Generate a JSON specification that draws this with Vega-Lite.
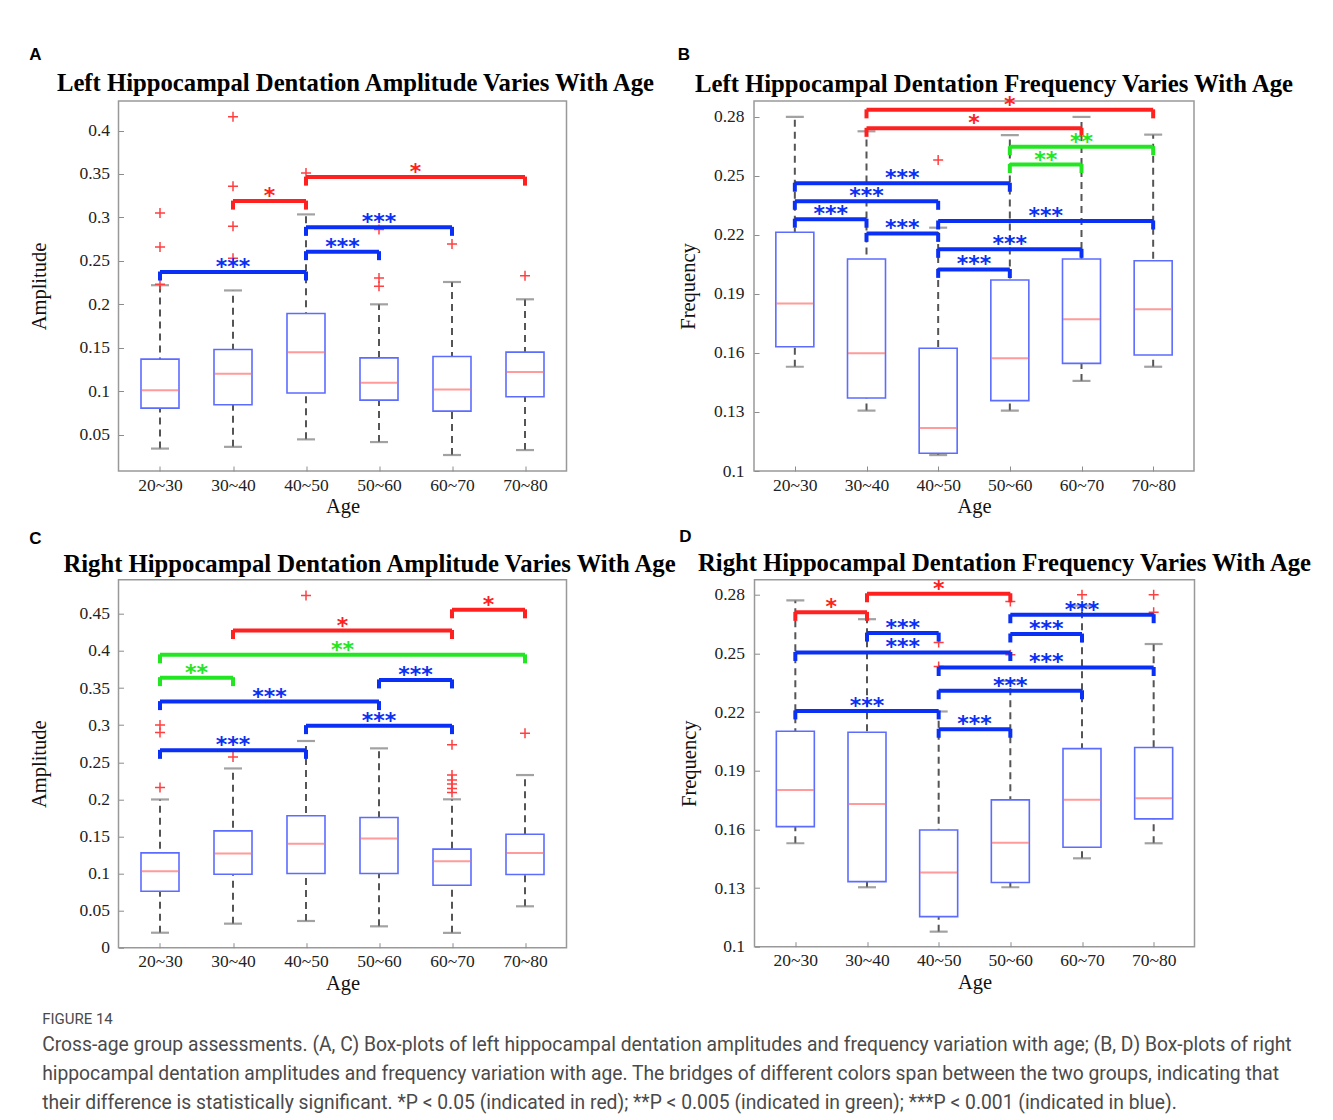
{
"$schema": "https://vega.github.io/schema/vega-lite/v6.json",
"background": "white",
"padding": {"left": 28.5, "top": 45, "right": 2, "bottom": 2},
"title": {"text": "FIGURE 14", "subtitle": ["Cross-age group assessments. (A, C) Box-plots of left hippocampal dentation amplitudes and frequency variation with age; (B, D) Box-plots of right", "hippocampal dentation amplitudes and frequency variation with age. The bridges of different colors span between the two groups, indicating that", "their difference is statistically significant. *P < 0.05 (indicated in red); **P < 0.005 (indicated in green); ***P < 0.001 (indicated in blue)."], "orient": "bottom", "anchor": "start", "frame": "bounds", "font": "Roboto", "fontSize": 15, "fontWeight": "normal", "color": "#4a4a4a", "subtitleFont": "Roboto", "subtitleFontSize": 19.3, "subtitleColor": "#4a4a4a", "subtitleLineHeight": 29, "subtitlePadding": 8.7, "offset": 18, "dx": 13},
"config": {
  "view": {"stroke": "#999999", "strokeWidth": 1.5},
  "axis": {"grid": false, "domain": false, "labelFont": "Liberation Serif", "labelFontSize": 17.5, "labelColor": "#222222", "titleFont": "Liberation Serif", "titleFontSize": 20.5, "titleFontWeight": "normal", "titleColor": "#111111", "tickColor": "#8c8c8c", "tickSize": -5, "labelOverlap": false},
  "title": {"font": "Liberation Serif", "fontSize": 24.7, "fontWeight": "bold", "color": "#000000"}
},
"datasets": {
  "boxes": [
    {"panel": "A", "g": 1, "lo": 0.034, "q1": 0.0805, "med": 0.101, "q3": 0.137, "hi": 0.222},
    {"panel": "A", "g": 2, "lo": 0.036, "q1": 0.0844, "med": 0.12, "q3": 0.148, "hi": 0.216},
    {"panel": "A", "g": 3, "lo": 0.0446, "q1": 0.098, "med": 0.145, "q3": 0.1894, "hi": 0.3035},
    {"panel": "A", "g": 4, "lo": 0.0415, "q1": 0.0898, "med": 0.1097, "q3": 0.1384, "hi": 0.2},
    {"panel": "A", "g": 5, "lo": 0.0266, "q1": 0.0771, "med": 0.102, "q3": 0.14, "hi": 0.2257},
    {"panel": "A", "g": 6, "lo": 0.0323, "q1": 0.0936, "med": 0.122, "q3": 0.145, "hi": 0.2058},
    {"panel": "B", "g": 1, "lo": 0.153, "q1": 0.1632, "med": 0.1852, "q3": 0.2214, "hi": 0.28},
    {"panel": "B", "g": 2, "lo": 0.1307, "q1": 0.1371, "med": 0.1598, "q3": 0.2078, "hi": 0.2727},
    {"panel": "B", "g": 3, "lo": 0.1081, "q1": 0.109, "med": 0.1218, "q3": 0.1624, "hi": 0.2237},
    {"panel": "B", "g": 4, "lo": 0.1307, "q1": 0.1358, "med": 0.1573, "q3": 0.1971, "hi": 0.2708},
    {"panel": "B", "g": 5, "lo": 0.1458, "q1": 0.1547, "med": 0.1771, "q3": 0.2078, "hi": 0.28},
    {"panel": "B", "g": 6, "lo": 0.153, "q1": 0.159, "med": 0.1822, "q3": 0.2069, "hi": 0.271},
    {"panel": "C", "g": 1, "lo": 0.0202, "q1": 0.076, "med": 0.103, "q3": 0.1278, "hi": 0.1998},
    {"panel": "C", "g": 2, "lo": 0.0324, "q1": 0.099, "med": 0.127, "q3": 0.1575, "hi": 0.2416},
    {"panel": "C", "g": 3, "lo": 0.036, "q1": 0.1, "med": 0.14, "q3": 0.1778, "hi": 0.2786},
    {"panel": "C", "g": 4, "lo": 0.0288, "q1": 0.1, "med": 0.1472, "q3": 0.1755, "hi": 0.2687},
    {"panel": "C", "g": 5, "lo": 0.02, "q1": 0.0842, "med": 0.1166, "q3": 0.1328, "hi": 0.2},
    {"panel": "C", "g": 6, "lo": 0.0558, "q1": 0.0986, "med": 0.1278, "q3": 0.153, "hi": 0.2327},
    {"panel": "D", "g": 1, "lo": 0.1529, "q1": 0.1614, "med": 0.1802, "q3": 0.2102, "hi": 0.2771},
    {"panel": "D", "g": 2, "lo": 0.1304, "q1": 0.1333, "med": 0.173, "q3": 0.2097, "hi": 0.2675},
    {"panel": "D", "g": 3, "lo": 0.1077, "q1": 0.1154, "med": 0.1379, "q3": 0.1597, "hi": 0.2203},
    {"panel": "D", "g": 4, "lo": 0.1304, "q1": 0.1328, "med": 0.1532, "q3": 0.1751, "hi": 0.236},
    {"panel": "D", "g": 5, "lo": 0.1452, "q1": 0.1509, "med": 0.1751, "q3": 0.2013, "hi": 0.2744},
    {"panel": "D", "g": 6, "lo": 0.1529, "q1": 0.1654, "med": 0.1759, "q3": 0.2019, "hi": 0.2548}
  ],
  "outliers": [
    {"panel": "A", "g": 1, "v": 0.305}, {"panel": "A", "g": 1, "v": 0.266}, {"panel": "A", "g": 1, "v": 0.223},
    {"panel": "A", "g": 2, "v": 0.416}, {"panel": "A", "g": 2, "v": 0.336}, {"panel": "A", "g": 2, "v": 0.29}, {"panel": "A", "g": 2, "v": 0.253},
    {"panel": "A", "g": 3, "v": 0.351},
    {"panel": "A", "g": 4, "v": 0.286}, {"panel": "A", "g": 4, "v": 0.2303}, {"panel": "A", "g": 4, "v": 0.2208},
    {"panel": "A", "g": 5, "v": 0.2694},
    {"panel": "A", "g": 6, "v": 0.233},
    {"panel": "B", "g": 3, "v": 0.2581},
    {"panel": "C", "g": 1, "v": 0.3}, {"panel": "C", "g": 1, "v": 0.29}, {"panel": "C", "g": 1, "v": 0.216},
    {"panel": "C", "g": 2, "v": 0.257},
    {"panel": "C", "g": 3, "v": 0.4748},
    {"panel": "C", "g": 5, "v": 0.2736}, {"panel": "C", "g": 5, "v": 0.2327}, {"panel": "C", "g": 5, "v": 0.226}, {"panel": "C", "g": 5, "v": 0.2205}, {"panel": "C", "g": 5, "v": 0.2147}, {"panel": "C", "g": 5, "v": 0.2093},
    {"panel": "C", "g": 6, "v": 0.289},
    {"panel": "D", "g": 3, "v": 0.2556}, {"panel": "D", "g": 3, "v": 0.2433},
    {"panel": "D", "g": 4, "v": 0.2766}, {"panel": "D", "g": 4, "v": 0.2493},
    {"panel": "D", "g": 5, "v": 0.28},
    {"panel": "D", "g": 6, "v": 0.28}, {"panel": "D", "g": 6, "v": 0.271}
  ],
  "brackets": [
    {"panel": "A", "g": 1, "g2": 3, "y": 0.2372, "sig": "***"},
    {"panel": "A", "g": 3, "g2": 4, "y": 0.2606, "sig": "***"},
    {"panel": "A", "g": 3, "g2": 5, "y": 0.2886, "sig": "***"},
    {"panel": "A", "g": 2, "g2": 3, "y": 0.3188, "sig": "*"},
    {"panel": "A", "g": 3, "g2": 6, "y": 0.3464, "sig": "*"},
    {"panel": "B", "g": 2, "g2": 6, "y": 0.2836, "sig": "*"},
    {"panel": "B", "g": 2, "g2": 5, "y": 0.2742, "sig": "*"},
    {"panel": "B", "g": 4, "g2": 6, "y": 0.2649, "sig": "**"},
    {"panel": "B", "g": 4, "g2": 5, "y": 0.2558, "sig": "**"},
    {"panel": "B", "g": 1, "g2": 4, "y": 0.2463, "sig": "***"},
    {"panel": "B", "g": 1, "g2": 3, "y": 0.2371, "sig": "***"},
    {"panel": "B", "g": 1, "g2": 2, "y": 0.228, "sig": "***"},
    {"panel": "B", "g": 3, "g2": 6, "y": 0.2271, "sig": "***"},
    {"panel": "B", "g": 2, "g2": 3, "y": 0.2208, "sig": "***"},
    {"panel": "B", "g": 3, "g2": 5, "y": 0.2127, "sig": "***"},
    {"panel": "B", "g": 3, "g2": 4, "y": 0.2025, "sig": "***"},
    {"panel": "C", "g": 5, "g2": 6, "y": 0.4554, "sig": "*"},
    {"panel": "C", "g": 2, "g2": 5, "y": 0.4275, "sig": "*"},
    {"panel": "C", "g": 1, "g2": 6, "y": 0.3947, "sig": "**"},
    {"panel": "C", "g": 1, "g2": 2, "y": 0.364, "sig": "**"},
    {"panel": "C", "g": 4, "g2": 5, "y": 0.3609, "sig": "***"},
    {"panel": "C", "g": 1, "g2": 4, "y": 0.3317, "sig": "***"},
    {"panel": "C", "g": 3, "g2": 5, "y": 0.2993, "sig": "***"},
    {"panel": "C", "g": 1, "g2": 3, "y": 0.266, "sig": "***"},
    {"panel": "D", "g": 2, "g2": 4, "y": 0.2805, "sig": "*"},
    {"panel": "D", "g": 1, "g2": 2, "y": 0.271, "sig": "*"},
    {"panel": "D", "g": 4, "g2": 6, "y": 0.2698, "sig": "***"},
    {"panel": "D", "g": 2, "g2": 3, "y": 0.2604, "sig": "***"},
    {"panel": "D", "g": 4, "g2": 5, "y": 0.2599, "sig": "***"},
    {"panel": "D", "g": 1, "g2": 4, "y": 0.2505, "sig": "***"},
    {"panel": "D", "g": 3, "g2": 6, "y": 0.2428, "sig": "***"},
    {"panel": "D", "g": 3, "g2": 5, "y": 0.2309, "sig": "***"},
    {"panel": "D", "g": 1, "g2": 3, "y": 0.2206, "sig": "***"},
    {"panel": "D", "g": 3, "g2": 4, "y": 0.2112, "sig": "***"}
  ]
},
"spacing": 9.7,
"vconcat": [
{"spacing": 19.5, "hconcat": [
{"title": {"text": "A", "anchor": "start", "font": "Liberation Sans", "fontSize": 17, "fontWeight": "bold", "offset": 7},
 "vconcat": [{
  "width": 448, "height": 370,
  "title": {"text": "Left Hippocampal Dentation Amplitude Varies With Age", "anchor": "middle", "dx": 13, "offset": 5},
  "layer": [
   {"data": {"name": "boxes"}, "transform": [{"filter": "datum.panel == 'A'"}],
    "mark": {"type": "rule", "color": "#555555", "strokeWidth": 2, "strokeDash": [7, 5]},
    "encoding": {
     "x": {"field": "g", "type": "quantitative", "title": "Age", "scale": {"domain": [0.5, 6.5], "nice": false, "zero": false}, "axis": {"values": [1, 2, 3, 4, 5, 6], "labelExpr": "['20~30','30~40','40~50','50~60','60~70','70~80'][datum.value - 1]", "labelFont": "Liberation Serif", "labelFontSize": 17.5, "labelColor": "#222222", "labelPadding": 10, "titlePadding": 3, "labelFlush": false}},
     "y": {"field": "lo", "type": "quantitative", "title": "Amplitude", "scale": {"domain": [0.0082, 0.434], "nice": false, "zero": false}, "axis": {"values": [0.05, 0.1, 0.15, 0.2, 0.25, 0.3, 0.35, 0.4], "format": "~g", "labelFont": "Liberation Serif", "labelFontSize": 17.5, "labelColor": "#222222", "labelPadding": 14, "titlePadding": 29, "labelFlush": false}},
     "y2": {"field": "hi"}}},
   {"data": {"name": "boxes"}, "transform": [{"filter": "datum.panel == 'A'"}],
    "mark": {"type": "tick", "orient": "horizontal", "size": 18, "thickness": 2.2, "color": "#7a7a7a"},
    "encoding": {"x": {"field": "g", "type": "quantitative", "title": "Age", "scale": {"domain": [0.5, 6.5], "nice": false, "zero": false}}, "y": {"field": "lo", "type": "quantitative", "title": "Amplitude", "scale": {"domain": [0.0082, 0.434], "nice": false, "zero": false}}}},
   {"data": {"name": "boxes"}, "transform": [{"filter": "datum.panel == 'A'"}],
    "mark": {"type": "tick", "orient": "horizontal", "size": 18, "thickness": 2.2, "color": "#7a7a7a"},
    "encoding": {"x": {"field": "g", "type": "quantitative", "title": "Age", "scale": {"domain": [0.5, 6.5], "nice": false, "zero": false}}, "y": {"field": "hi", "type": "quantitative", "title": "Amplitude", "scale": {"domain": [0.0082, 0.434], "nice": false, "zero": false}}}},
   {"data": {"name": "boxes"}, "transform": [{"filter": "datum.panel == 'A'"}],
    "mark": {"type": "bar", "orient": "vertical", "size": 38, "fill": "white", "stroke": "#5c6cff", "strokeWidth": 1.6},
    "encoding": {"x": {"field": "g", "type": "quantitative", "title": "Age", "scale": {"domain": [0.5, 6.5], "nice": false, "zero": false}}, "y": {"field": "q1", "type": "quantitative", "title": "Amplitude", "scale": {"domain": [0.0082, 0.434], "nice": false, "zero": false}}, "y2": {"field": "q3"}}},
   {"data": {"name": "boxes"}, "transform": [{"filter": "datum.panel == 'A'"}],
    "mark": {"type": "tick", "orient": "horizontal", "size": 37, "thickness": 2, "color": "#ff7070"},
    "encoding": {"x": {"field": "g", "type": "quantitative", "title": "Age", "scale": {"domain": [0.5, 6.5], "nice": false, "zero": false}}, "y": {"field": "med", "type": "quantitative", "title": "Amplitude", "scale": {"domain": [0.0082, 0.434], "nice": false, "zero": false}}}},
   {"data": {"name": "outliers"}, "transform": [{"filter": "datum.panel == 'A'"}],
    "mark": {"type": "point", "shape": "M-1,0L1,0M0,-1L0,1", "filled": false, "size": 100, "stroke": "#ff4040", "strokeWidth": 1.5, "opacity": 1},
    "encoding": {"x": {"field": "g", "type": "quantitative", "title": "Age", "scale": {"domain": [0.5, 6.5], "nice": false, "zero": false}}, "y": {"field": "v", "type": "quantitative", "title": "Amplitude", "scale": {"domain": [0.0082, 0.434], "nice": false, "zero": false}}}},
   {"data": {"name": "brackets"}, "transform": [{"filter": "datum.panel == 'A'"}],
    "mark": {"type": "rule", "strokeWidth": 4},
    "encoding": {"x": {"field": "g", "type": "quantitative", "title": "Age", "scale": {"domain": [0.5, 6.5], "nice": false, "zero": false}}, "x2": {"field": "g2"}, "y": {"field": "y", "type": "quantitative", "title": "Amplitude", "scale": {"domain": [0.0082, 0.434], "nice": false, "zero": false}},
     "color": {"field": "sig", "type": "nominal", "scale": {"domain": ["*", "**", "***"], "range": ["#ff2020", "#22e622", "#0a30f5"]}, "legend": null}}},
   {"data": {"name": "brackets"}, "transform": [{"filter": "datum.panel == 'A'"}],
    "mark": {"type": "tick", "orient": "vertical", "size": 9, "thickness": 4, "yOffset": 4, "opacity": 1},
    "encoding": {"x": {"field": "g", "type": "quantitative", "title": "Age", "scale": {"domain": [0.5, 6.5], "nice": false, "zero": false}}, "y": {"field": "y", "type": "quantitative", "title": "Amplitude", "scale": {"domain": [0.0082, 0.434], "nice": false, "zero": false}},
     "color": {"field": "sig", "type": "nominal", "scale": {"domain": ["*", "**", "***"], "range": ["#ff2020", "#22e622", "#0a30f5"]}, "legend": null}}},
   {"data": {"name": "brackets"}, "transform": [{"filter": "datum.panel == 'A'"}],
    "mark": {"type": "tick", "orient": "vertical", "size": 9, "thickness": 4, "yOffset": 4, "opacity": 1},
    "encoding": {"x": {"field": "g2", "type": "quantitative", "title": "Age", "scale": {"domain": [0.5, 6.5], "nice": false, "zero": false}}, "y": {"field": "y", "type": "quantitative", "title": "Amplitude", "scale": {"domain": [0.0082, 0.434], "nice": false, "zero": false}},
     "color": {"field": "sig", "type": "nominal", "scale": {"domain": ["*", "**", "***"], "range": ["#ff2020", "#22e622", "#0a30f5"]}, "legend": null}}},
   {"data": {"name": "brackets"}, "transform": [{"filter": "datum.panel == 'A'"}, {"fold": ["g", "g2"], "as": ["end", "xpos"]}, {"aggregate": [{"op": "mean", "field": "xpos", "as": "mid"}], "groupby": ["g", "g2", "y", "sig"]}],
    "mark": {"type": "text", "font": "DejaVu Sans", "fontSize": 22, "fontWeight": "bold", "baseline": "alphabetic", "dy": 2},
    "encoding": {"x": {"field": "mid", "type": "quantitative", "title": "Age", "scale": {"domain": [0.5, 6.5], "nice": false, "zero": false}}, "y": {"field": "y", "type": "quantitative", "title": "Amplitude", "scale": {"domain": [0.0082, 0.434], "nice": false, "zero": false}}, "text": {"field": "sig"},
     "color": {"field": "sig", "type": "nominal", "scale": {"domain": ["*", "**", "***"], "range": ["#ff2020", "#22e622", "#0a30f5"]}, "legend": null}}}
  ]}]},
{"title": {"text": "B", "anchor": "start", "font": "Liberation Sans", "fontSize": 17, "fontWeight": "bold", "offset": 7},
 "vconcat": [{
  "width": 440, "height": 370,
  "title": {"text": "Left Hippocampal Dentation Frequency Varies With Age", "anchor": "middle", "dx": 20, "offset": -3},
  "layer": [
   {"data": {"name": "boxes"}, "transform": [{"filter": "datum.panel == 'B'"}],
    "mark": {"type": "rule", "color": "#555555", "strokeWidth": 2, "strokeDash": [7, 5]},
    "encoding": {
     "x": {"field": "g", "type": "quantitative", "title": "Age", "scale": {"domain": [0.5, 6.5], "nice": false, "zero": false}, "axis": {"values": [1, 2, 3, 4, 5, 6], "labelExpr": "['20~30','30~40','40~50','50~60','60~70','70~80'][datum.value - 1]", "labelFont": "Liberation Serif", "labelFontSize": 17.5, "labelColor": "#222222", "labelPadding": 10, "titlePadding": 3, "labelFlush": false}},
     "y": {"field": "lo", "type": "quantitative", "title": "Frequency", "scale": {"domain": [0.1, 0.2881], "nice": false, "zero": false}, "axis": {"values": [0.1, 0.13, 0.16, 0.19, 0.22, 0.25, 0.28], "format": "~g", "labelFont": "Liberation Serif", "labelFontSize": 17.5, "labelColor": "#222222", "labelPadding": 15, "titlePadding": 15, "labelFlush": false}},
     "y2": {"field": "hi"}}},
   {"data": {"name": "boxes"}, "transform": [{"filter": "datum.panel == 'B'"}],
    "mark": {"type": "tick", "orient": "horizontal", "size": 18, "thickness": 2.2, "color": "#7a7a7a"},
    "encoding": {"x": {"field": "g", "type": "quantitative", "title": "Age", "scale": {"domain": [0.5, 6.5], "nice": false, "zero": false}}, "y": {"field": "lo", "type": "quantitative", "title": "Frequency", "scale": {"domain": [0.1, 0.2881], "nice": false, "zero": false}}}},
   {"data": {"name": "boxes"}, "transform": [{"filter": "datum.panel == 'B'"}],
    "mark": {"type": "tick", "orient": "horizontal", "size": 18, "thickness": 2.2, "color": "#7a7a7a"},
    "encoding": {"x": {"field": "g", "type": "quantitative", "title": "Age", "scale": {"domain": [0.5, 6.5], "nice": false, "zero": false}}, "y": {"field": "hi", "type": "quantitative", "title": "Frequency", "scale": {"domain": [0.1, 0.2881], "nice": false, "zero": false}}}},
   {"data": {"name": "boxes"}, "transform": [{"filter": "datum.panel == 'B'"}],
    "mark": {"type": "bar", "orient": "vertical", "size": 38, "fill": "white", "stroke": "#5c6cff", "strokeWidth": 1.6},
    "encoding": {"x": {"field": "g", "type": "quantitative", "title": "Age", "scale": {"domain": [0.5, 6.5], "nice": false, "zero": false}}, "y": {"field": "q1", "type": "quantitative", "title": "Frequency", "scale": {"domain": [0.1, 0.2881], "nice": false, "zero": false}}, "y2": {"field": "q3"}}},
   {"data": {"name": "boxes"}, "transform": [{"filter": "datum.panel == 'B'"}],
    "mark": {"type": "tick", "orient": "horizontal", "size": 37, "thickness": 2, "color": "#ff7070"},
    "encoding": {"x": {"field": "g", "type": "quantitative", "title": "Age", "scale": {"domain": [0.5, 6.5], "nice": false, "zero": false}}, "y": {"field": "med", "type": "quantitative", "title": "Frequency", "scale": {"domain": [0.1, 0.2881], "nice": false, "zero": false}}}},
   {"data": {"name": "outliers"}, "transform": [{"filter": "datum.panel == 'B'"}],
    "mark": {"type": "point", "shape": "M-1,0L1,0M0,-1L0,1", "filled": false, "size": 100, "stroke": "#ff4040", "strokeWidth": 1.5, "opacity": 1},
    "encoding": {"x": {"field": "g", "type": "quantitative", "title": "Age", "scale": {"domain": [0.5, 6.5], "nice": false, "zero": false}}, "y": {"field": "v", "type": "quantitative", "title": "Frequency", "scale": {"domain": [0.1, 0.2881], "nice": false, "zero": false}}}},
   {"data": {"name": "brackets"}, "transform": [{"filter": "datum.panel == 'B'"}],
    "mark": {"type": "rule", "strokeWidth": 4},
    "encoding": {"x": {"field": "g", "type": "quantitative", "title": "Age", "scale": {"domain": [0.5, 6.5], "nice": false, "zero": false}}, "x2": {"field": "g2"}, "y": {"field": "y", "type": "quantitative", "title": "Frequency", "scale": {"domain": [0.1, 0.2881], "nice": false, "zero": false}},
     "color": {"field": "sig", "type": "nominal", "scale": {"domain": ["*", "**", "***"], "range": ["#ff2020", "#22e622", "#0a30f5"]}, "legend": null}}},
   {"data": {"name": "brackets"}, "transform": [{"filter": "datum.panel == 'B'"}],
    "mark": {"type": "tick", "orient": "vertical", "size": 9, "thickness": 4, "yOffset": 4, "opacity": 1},
    "encoding": {"x": {"field": "g", "type": "quantitative", "title": "Age", "scale": {"domain": [0.5, 6.5], "nice": false, "zero": false}}, "y": {"field": "y", "type": "quantitative", "title": "Frequency", "scale": {"domain": [0.1, 0.2881], "nice": false, "zero": false}},
     "color": {"field": "sig", "type": "nominal", "scale": {"domain": ["*", "**", "***"], "range": ["#ff2020", "#22e622", "#0a30f5"]}, "legend": null}}},
   {"data": {"name": "brackets"}, "transform": [{"filter": "datum.panel == 'B'"}],
    "mark": {"type": "tick", "orient": "vertical", "size": 9, "thickness": 4, "yOffset": 4, "opacity": 1},
    "encoding": {"x": {"field": "g2", "type": "quantitative", "title": "Age", "scale": {"domain": [0.5, 6.5], "nice": false, "zero": false}}, "y": {"field": "y", "type": "quantitative", "title": "Frequency", "scale": {"domain": [0.1, 0.2881], "nice": false, "zero": false}},
     "color": {"field": "sig", "type": "nominal", "scale": {"domain": ["*", "**", "***"], "range": ["#ff2020", "#22e622", "#0a30f5"]}, "legend": null}}},
   {"data": {"name": "brackets"}, "transform": [{"filter": "datum.panel == 'B'"}, {"fold": ["g", "g2"], "as": ["end", "xpos"]}, {"aggregate": [{"op": "mean", "field": "xpos", "as": "mid"}], "groupby": ["g", "g2", "y", "sig"]}],
    "mark": {"type": "text", "font": "DejaVu Sans", "fontSize": 22, "fontWeight": "bold", "baseline": "alphabetic", "dy": 2},
    "encoding": {"x": {"field": "mid", "type": "quantitative", "title": "Age", "scale": {"domain": [0.5, 6.5], "nice": false, "zero": false}}, "y": {"field": "y", "type": "quantitative", "title": "Frequency", "scale": {"domain": [0.1, 0.2881], "nice": false, "zero": false}}, "text": {"field": "sig"},
     "color": {"field": "sig", "type": "nominal", "scale": {"domain": ["*", "**", "***"], "range": ["#ff2020", "#22e622", "#0a30f5"]}, "legend": null}}}
  ]}]}
]},
{"spacing": 0, "hconcat": [
{"title": {"text": "C", "anchor": "start", "font": "Liberation Sans", "fontSize": 17, "fontWeight": "bold", "offset": 3.3},
 "vconcat": [{
  "width": 448, "height": 368,
  "title": {"text": "Right Hippocampal Dentation Amplitude Varies With Age", "anchor": "middle", "dx": 27, "offset": 3.3},
  "layer": [
   {"data": {"name": "boxes"}, "transform": [{"filter": "datum.panel == 'C'"}],
    "mark": {"type": "rule", "color": "#555555", "strokeWidth": 2, "strokeDash": [7, 5]},
    "encoding": {
     "x": {"field": "g", "type": "quantitative", "title": "Age", "scale": {"domain": [0.5, 6.5], "nice": false, "zero": false}, "axis": {"values": [1, 2, 3, 4, 5, 6], "labelExpr": "['20~30','30~40','40~50','50~60','60~70','70~80'][datum.value - 1]", "labelFont": "Liberation Serif", "labelFontSize": 17.5, "labelColor": "#222222", "labelPadding": 10, "titlePadding": 3, "labelFlush": false}},
     "y": {"field": "lo", "type": "quantitative", "title": "Amplitude", "scale": {"domain": [0, 0.496], "nice": false, "zero": false}, "axis": {"values": [0, 0.05, 0.1, 0.15, 0.2, 0.25, 0.3, 0.35, 0.4, 0.45], "format": "~g", "labelFont": "Liberation Serif", "labelFontSize": 17.5, "labelColor": "#222222", "labelPadding": 14, "titlePadding": 29, "labelFlush": false}},
     "y2": {"field": "hi"}}},
   {"data": {"name": "boxes"}, "transform": [{"filter": "datum.panel == 'C'"}],
    "mark": {"type": "tick", "orient": "horizontal", "size": 18, "thickness": 2.2, "color": "#7a7a7a"},
    "encoding": {"x": {"field": "g", "type": "quantitative", "title": "Age", "scale": {"domain": [0.5, 6.5], "nice": false, "zero": false}}, "y": {"field": "lo", "type": "quantitative", "title": "Amplitude", "scale": {"domain": [0, 0.496], "nice": false, "zero": false}}}},
   {"data": {"name": "boxes"}, "transform": [{"filter": "datum.panel == 'C'"}],
    "mark": {"type": "tick", "orient": "horizontal", "size": 18, "thickness": 2.2, "color": "#7a7a7a"},
    "encoding": {"x": {"field": "g", "type": "quantitative", "title": "Age", "scale": {"domain": [0.5, 6.5], "nice": false, "zero": false}}, "y": {"field": "hi", "type": "quantitative", "title": "Amplitude", "scale": {"domain": [0, 0.496], "nice": false, "zero": false}}}},
   {"data": {"name": "boxes"}, "transform": [{"filter": "datum.panel == 'C'"}],
    "mark": {"type": "bar", "orient": "vertical", "size": 38, "fill": "white", "stroke": "#5c6cff", "strokeWidth": 1.6},
    "encoding": {"x": {"field": "g", "type": "quantitative", "title": "Age", "scale": {"domain": [0.5, 6.5], "nice": false, "zero": false}}, "y": {"field": "q1", "type": "quantitative", "title": "Amplitude", "scale": {"domain": [0, 0.496], "nice": false, "zero": false}}, "y2": {"field": "q3"}}},
   {"data": {"name": "boxes"}, "transform": [{"filter": "datum.panel == 'C'"}],
    "mark": {"type": "tick", "orient": "horizontal", "size": 37, "thickness": 2, "color": "#ff7070"},
    "encoding": {"x": {"field": "g", "type": "quantitative", "title": "Age", "scale": {"domain": [0.5, 6.5], "nice": false, "zero": false}}, "y": {"field": "med", "type": "quantitative", "title": "Amplitude", "scale": {"domain": [0, 0.496], "nice": false, "zero": false}}}},
   {"data": {"name": "outliers"}, "transform": [{"filter": "datum.panel == 'C'"}],
    "mark": {"type": "point", "shape": "M-1,0L1,0M0,-1L0,1", "filled": false, "size": 100, "stroke": "#ff4040", "strokeWidth": 1.5, "opacity": 1},
    "encoding": {"x": {"field": "g", "type": "quantitative", "title": "Age", "scale": {"domain": [0.5, 6.5], "nice": false, "zero": false}}, "y": {"field": "v", "type": "quantitative", "title": "Amplitude", "scale": {"domain": [0, 0.496], "nice": false, "zero": false}}}},
   {"data": {"name": "brackets"}, "transform": [{"filter": "datum.panel == 'C'"}],
    "mark": {"type": "rule", "strokeWidth": 4},
    "encoding": {"x": {"field": "g", "type": "quantitative", "title": "Age", "scale": {"domain": [0.5, 6.5], "nice": false, "zero": false}}, "x2": {"field": "g2"}, "y": {"field": "y", "type": "quantitative", "title": "Amplitude", "scale": {"domain": [0, 0.496], "nice": false, "zero": false}},
     "color": {"field": "sig", "type": "nominal", "scale": {"domain": ["*", "**", "***"], "range": ["#ff2020", "#22e622", "#0a30f5"]}, "legend": null}}},
   {"data": {"name": "brackets"}, "transform": [{"filter": "datum.panel == 'C'"}],
    "mark": {"type": "tick", "orient": "vertical", "size": 9, "thickness": 4, "yOffset": 4, "opacity": 1},
    "encoding": {"x": {"field": "g", "type": "quantitative", "title": "Age", "scale": {"domain": [0.5, 6.5], "nice": false, "zero": false}}, "y": {"field": "y", "type": "quantitative", "title": "Amplitude", "scale": {"domain": [0, 0.496], "nice": false, "zero": false}},
     "color": {"field": "sig", "type": "nominal", "scale": {"domain": ["*", "**", "***"], "range": ["#ff2020", "#22e622", "#0a30f5"]}, "legend": null}}},
   {"data": {"name": "brackets"}, "transform": [{"filter": "datum.panel == 'C'"}],
    "mark": {"type": "tick", "orient": "vertical", "size": 9, "thickness": 4, "yOffset": 4, "opacity": 1},
    "encoding": {"x": {"field": "g2", "type": "quantitative", "title": "Age", "scale": {"domain": [0.5, 6.5], "nice": false, "zero": false}}, "y": {"field": "y", "type": "quantitative", "title": "Amplitude", "scale": {"domain": [0, 0.496], "nice": false, "zero": false}},
     "color": {"field": "sig", "type": "nominal", "scale": {"domain": ["*", "**", "***"], "range": ["#ff2020", "#22e622", "#0a30f5"]}, "legend": null}}},
   {"data": {"name": "brackets"}, "transform": [{"filter": "datum.panel == 'C'"}, {"fold": ["g", "g2"], "as": ["end", "xpos"]}, {"aggregate": [{"op": "mean", "field": "xpos", "as": "mid"}], "groupby": ["g", "g2", "y", "sig"]}],
    "mark": {"type": "text", "font": "DejaVu Sans", "fontSize": 22, "fontWeight": "bold", "baseline": "alphabetic", "dy": 2},
    "encoding": {"x": {"field": "mid", "type": "quantitative", "title": "Age", "scale": {"domain": [0.5, 6.5], "nice": false, "zero": false}}, "y": {"field": "y", "type": "quantitative", "title": "Amplitude", "scale": {"domain": [0, 0.496], "nice": false, "zero": false}}, "text": {"field": "sig"},
     "color": {"field": "sig", "type": "nominal", "scale": {"domain": ["*", "**", "***"], "range": ["#ff2020", "#22e622", "#0a30f5"]}, "legend": null}}}
  ]}]},
{"title": {"text": "D", "anchor": "start", "font": "Liberation Sans", "fontSize": 17, "fontWeight": "bold", "offset": 4.3},
 "vconcat": [{
  "width": 440, "height": 367,
  "title": {"text": "Right Hippocampal Dentation Frequency Varies With Age", "anchor": "middle", "dx": 30, "offset": 1.7},
  "layer": [
   {"data": {"name": "boxes"}, "transform": [{"filter": "datum.panel == 'D'"}],
    "mark": {"type": "rule", "color": "#555555", "strokeWidth": 2, "strokeDash": [7, 5]},
    "encoding": {
     "x": {"field": "g", "type": "quantitative", "title": "Age", "scale": {"domain": [0.5, 6.5], "nice": false, "zero": false}, "axis": {"values": [1, 2, 3, 4, 5, 6], "labelExpr": "['20~30','30~40','40~50','50~60','60~70','70~80'][datum.value - 1]", "labelFont": "Liberation Serif", "labelFontSize": 17.5, "labelColor": "#222222", "labelPadding": 10, "titlePadding": 3, "labelFlush": false}},
     "y": {"field": "lo", "type": "quantitative", "title": "Frequency", "scale": {"domain": [0.1, 0.2877], "nice": false, "zero": false}, "axis": {"values": [0.1, 0.13, 0.16, 0.19, 0.22, 0.25, 0.28], "format": "~g", "labelFont": "Liberation Serif", "labelFontSize": 17.5, "labelColor": "#222222", "labelPadding": 15, "titlePadding": 14, "labelFlush": false}},
     "y2": {"field": "hi"}}},
   {"data": {"name": "boxes"}, "transform": [{"filter": "datum.panel == 'D'"}],
    "mark": {"type": "tick", "orient": "horizontal", "size": 18, "thickness": 2.2, "color": "#7a7a7a"},
    "encoding": {"x": {"field": "g", "type": "quantitative", "title": "Age", "scale": {"domain": [0.5, 6.5], "nice": false, "zero": false}}, "y": {"field": "lo", "type": "quantitative", "title": "Frequency", "scale": {"domain": [0.1, 0.2877], "nice": false, "zero": false}}}},
   {"data": {"name": "boxes"}, "transform": [{"filter": "datum.panel == 'D'"}],
    "mark": {"type": "tick", "orient": "horizontal", "size": 18, "thickness": 2.2, "color": "#7a7a7a"},
    "encoding": {"x": {"field": "g", "type": "quantitative", "title": "Age", "scale": {"domain": [0.5, 6.5], "nice": false, "zero": false}}, "y": {"field": "hi", "type": "quantitative", "title": "Frequency", "scale": {"domain": [0.1, 0.2877], "nice": false, "zero": false}}}},
   {"data": {"name": "boxes"}, "transform": [{"filter": "datum.panel == 'D'"}],
    "mark": {"type": "bar", "orient": "vertical", "size": 38, "fill": "white", "stroke": "#5c6cff", "strokeWidth": 1.6},
    "encoding": {"x": {"field": "g", "type": "quantitative", "title": "Age", "scale": {"domain": [0.5, 6.5], "nice": false, "zero": false}}, "y": {"field": "q1", "type": "quantitative", "title": "Frequency", "scale": {"domain": [0.1, 0.2877], "nice": false, "zero": false}}, "y2": {"field": "q3"}}},
   {"data": {"name": "boxes"}, "transform": [{"filter": "datum.panel == 'D'"}],
    "mark": {"type": "tick", "orient": "horizontal", "size": 37, "thickness": 2, "color": "#ff7070"},
    "encoding": {"x": {"field": "g", "type": "quantitative", "title": "Age", "scale": {"domain": [0.5, 6.5], "nice": false, "zero": false}}, "y": {"field": "med", "type": "quantitative", "title": "Frequency", "scale": {"domain": [0.1, 0.2877], "nice": false, "zero": false}}}},
   {"data": {"name": "outliers"}, "transform": [{"filter": "datum.panel == 'D'"}],
    "mark": {"type": "point", "shape": "M-1,0L1,0M0,-1L0,1", "filled": false, "size": 100, "stroke": "#ff4040", "strokeWidth": 1.5, "opacity": 1},
    "encoding": {"x": {"field": "g", "type": "quantitative", "title": "Age", "scale": {"domain": [0.5, 6.5], "nice": false, "zero": false}}, "y": {"field": "v", "type": "quantitative", "title": "Frequency", "scale": {"domain": [0.1, 0.2877], "nice": false, "zero": false}}}},
   {"data": {"name": "brackets"}, "transform": [{"filter": "datum.panel == 'D'"}],
    "mark": {"type": "rule", "strokeWidth": 4},
    "encoding": {"x": {"field": "g", "type": "quantitative", "title": "Age", "scale": {"domain": [0.5, 6.5], "nice": false, "zero": false}}, "x2": {"field": "g2"}, "y": {"field": "y", "type": "quantitative", "title": "Frequency", "scale": {"domain": [0.1, 0.2877], "nice": false, "zero": false}},
     "color": {"field": "sig", "type": "nominal", "scale": {"domain": ["*", "**", "***"], "range": ["#ff2020", "#22e622", "#0a30f5"]}, "legend": null}}},
   {"data": {"name": "brackets"}, "transform": [{"filter": "datum.panel == 'D'"}],
    "mark": {"type": "tick", "orient": "vertical", "size": 9, "thickness": 4, "yOffset": 4, "opacity": 1},
    "encoding": {"x": {"field": "g", "type": "quantitative", "title": "Age", "scale": {"domain": [0.5, 6.5], "nice": false, "zero": false}}, "y": {"field": "y", "type": "quantitative", "title": "Frequency", "scale": {"domain": [0.1, 0.2877], "nice": false, "zero": false}},
     "color": {"field": "sig", "type": "nominal", "scale": {"domain": ["*", "**", "***"], "range": ["#ff2020", "#22e622", "#0a30f5"]}, "legend": null}}},
   {"data": {"name": "brackets"}, "transform": [{"filter": "datum.panel == 'D'"}],
    "mark": {"type": "tick", "orient": "vertical", "size": 9, "thickness": 4, "yOffset": 4, "opacity": 1},
    "encoding": {"x": {"field": "g2", "type": "quantitative", "title": "Age", "scale": {"domain": [0.5, 6.5], "nice": false, "zero": false}}, "y": {"field": "y", "type": "quantitative", "title": "Frequency", "scale": {"domain": [0.1, 0.2877], "nice": false, "zero": false}},
     "color": {"field": "sig", "type": "nominal", "scale": {"domain": ["*", "**", "***"], "range": ["#ff2020", "#22e622", "#0a30f5"]}, "legend": null}}},
   {"data": {"name": "brackets"}, "transform": [{"filter": "datum.panel == 'D'"}, {"fold": ["g", "g2"], "as": ["end", "xpos"]}, {"aggregate": [{"op": "mean", "field": "xpos", "as": "mid"}], "groupby": ["g", "g2", "y", "sig"]}],
    "mark": {"type": "text", "font": "DejaVu Sans", "fontSize": 22, "fontWeight": "bold", "baseline": "alphabetic", "dy": 2},
    "encoding": {"x": {"field": "mid", "type": "quantitative", "title": "Age", "scale": {"domain": [0.5, 6.5], "nice": false, "zero": false}}, "y": {"field": "y", "type": "quantitative", "title": "Frequency", "scale": {"domain": [0.1, 0.2877], "nice": false, "zero": false}}, "text": {"field": "sig"},
     "color": {"field": "sig", "type": "nominal", "scale": {"domain": ["*", "**", "***"], "range": ["#ff2020", "#22e622", "#0a30f5"]}, "legend": null}}}
  ]}]}
]}
]
}
